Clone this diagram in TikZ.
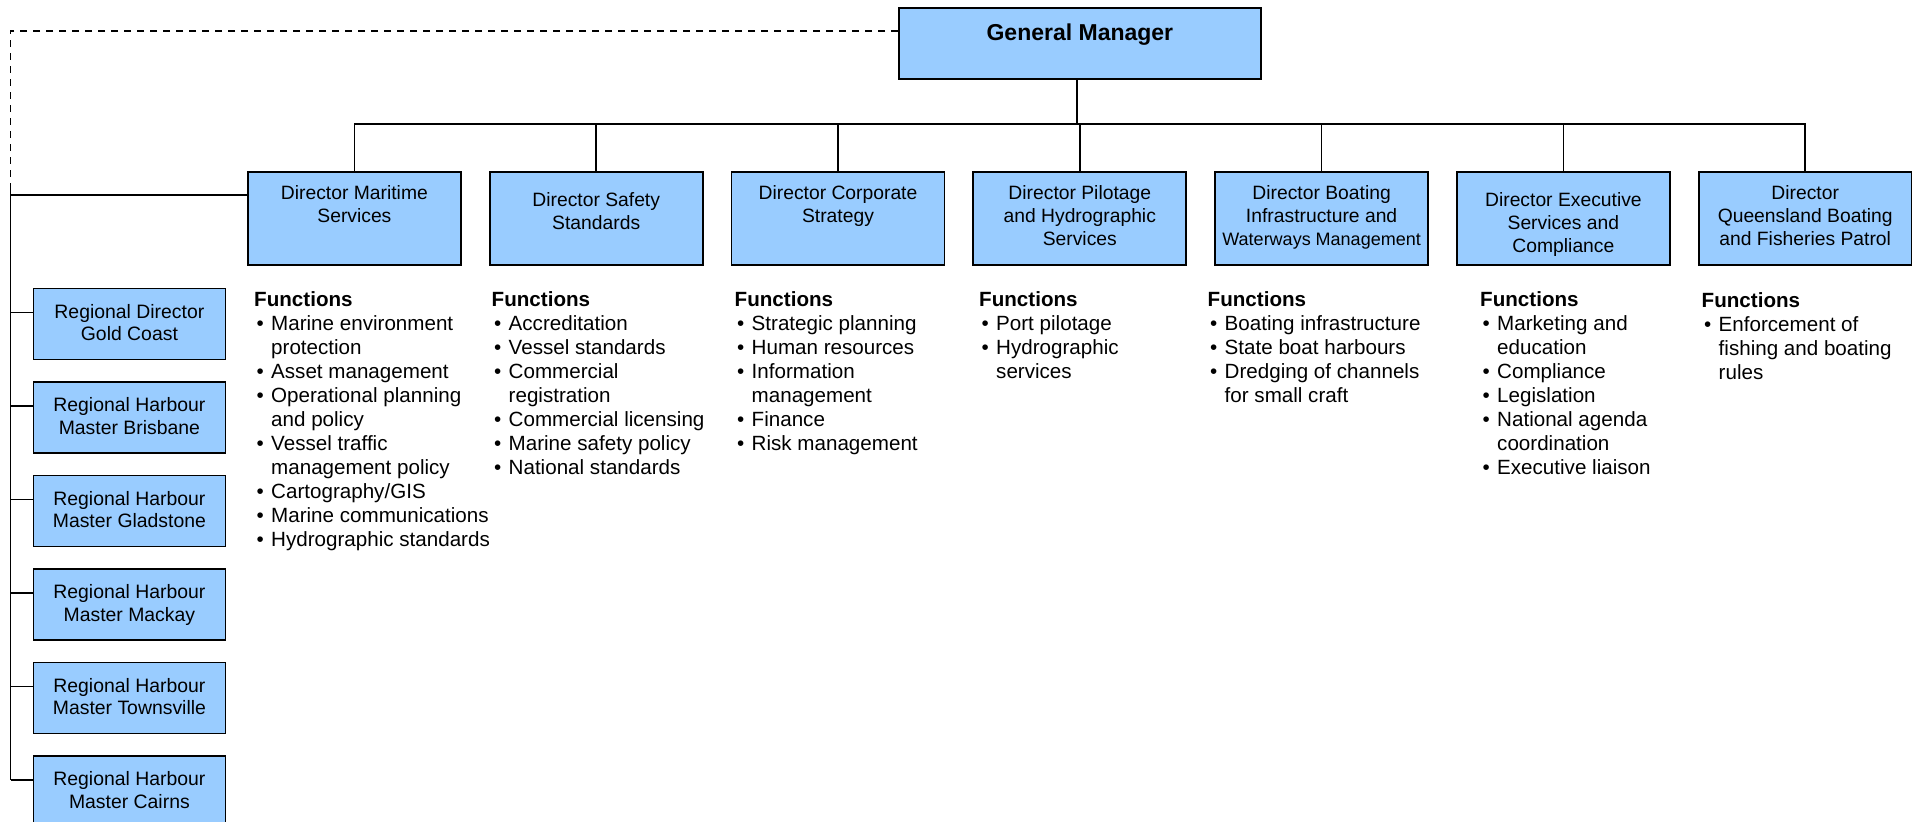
\documentclass[tikz,border=0pt]{standalone}
\usepackage{fontspec}
\setmainfont{Liberation Sans}
\definecolor{boxblue}{HTML}{99CCFF}
\newcommand\boxtext[5]{\parbox[c][#2pt][t]{#1pt}{\centering\fontsize{#4}{22.7}\selectfont\rule{0pt}{#3pt}#5}}
\newcommand\dtext[2]{\boxtext{213}{93}{#1}{19.3}{#2}}
\newcommand\rtext[1]{\boxtext{192}{71}{29.7}{19.4}{#1}}
\newcommand\fhead{{\bfseries Functions}}
\newcommand\fb[1]{\makebox[17pt][l]{\hspace{2.5pt}\textbullet}#1}
\newcommand\fc[1]{\hspace*{17pt}#1}
\newcommand\fcol[1]{\parbox[t]{240pt}{\raggedright\fontsize{20.6}{24}\selectfont #1}}
\tikzset{
  box/.style={draw=black, line width=1.8pt, fill=boxblue, inner sep=0pt, anchor=north west},
  conn/.style={draw=black, line width=1.7pt},
  dashconn/.style={conn, dash pattern=on 7pt off 6pt},
  fn/.style={inner sep=0pt, anchor=base west},
}
\begin{document}
\begin{tikzpicture}[x=1pt, y=-1pt]
\useasboundingbox (0,0) rectangle (1912,822);

% General manager
\node[box] (gm) at (898,7.3) {\parbox[c][70.4pt][t]{362pt}{\centering\fontsize{23}{27}\selectfont\bfseries\rule{0pt}{32.7pt}General Manager}};

% Directors
\node[box] (d1) at (247.0,171) {\dtext{27.7}{Director Maritime\\Services}};
\node[box] (d2) at (488.8,171) {\dtext{35}{Director Safety\\Standards}};
\node[box] (d3) at (730.6,171) {\dtext{27.7}{Director Corporate\\Strategy}};
\node[box] (d4) at (972.4,171) {\dtext{27.7}{Director Pilotage\\and Hydrographic\\Services}};
\node[box] (d5) at (1214.2,171) {\dtext{27.7}{Director Boating\\Infrastructure and\\{\fontsize{18}{22.7}\selectfont Waterways Management}}};
\node[box] (d6) at (1456.0,171) {\dtext{35}{Director Executive\\Services and\\Compliance}};
\node[box] (d7) at (1697.8,171) {\dtext{27.7}{Director\\Queensland Boating\\and Fisheries Patrol}};

% Regional boxes
\node[box] (r1) at (32.5,287.5) {\rtext{Regional Director\\Gold Coast}};
\node[box] (r2) at (32.5,381.0) {\rtext{Regional Harbour\\Master Brisbane}};
\node[box] (r3) at (32.5,474.5) {\rtext{Regional Harbour\\Master Gladstone}};
\node[box] (r4) at (32.5,568.0) {\rtext{Regional Harbour\\Master Mackay}};
\node[box] (r5) at (32.5,661.5) {\rtext{Regional Harbour\\Master Townsville}};
\node[box] (r6) at (32.5,755.0) {\rtext{Regional Harbour\\Master Cairns}};

% Connectors
\coordinate (bus) at (0,124);
\coordinate (dl) at (10.5,30.7);
\coordinate (vtop) at (10.5,188);
\coordinate (gmb) at ([xshift=-3pt]gm.south);
\coordinate (d1w) at ([yshift=23.5pt]d1.west);
\foreach \i in {1,...,6} {\coordinate (s\i) at ([yshift=11.5pt]r\i.west);}
\draw[conn] (gmb) -- (gmb |- bus);
\draw[conn] (d1.north) -- (d1.north |- bus) -- (d7.north |- bus) -- (d7.north);
\foreach \i in {2,...,6} {\draw[conn] (d\i.north) -- (d\i.north |- bus);}
\draw[dashconn] (gm.west |- dl) -- (dl) -- (vtop);
\draw[conn] (vtop) -- (vtop |- s6);
\draw[conn] (d1w) -- (vtop |- d1w);
\foreach \i in {1,...,6} {\draw[conn] (s\i) -- (vtop |- s\i);}

% Functions
\node[fn] (f1) at (254,306.7) {\fcol{\fhead\\
\fb{Marine environment}\\ \fc{protection}\\ \fb{Asset management}\\ \fb{Operational planning}\\ \fc{and policy}\\
\fb{Vessel traffic}\\ \fc{management policy}\\ \fb{Cartography/GIS}\\ \fb{Marine communications}\\ \fb{Hydrographic standards}}};
\node[fn] (f2) at (491.5,306.7) {\fcol{\fhead\\
\fb{Accreditation}\\ \fb{Vessel standards}\\ \fb{Commercial}\\ \fc{registration}\\ \fb{Commercial licensing}\\ \fb{Marine safety policy}\\ \fb{National standards}}};
\node[fn] (f3) at (734.5,306.7) {\fcol{\fhead\\
\fb{Strategic planning}\\ \fb{Human resources}\\ \fb{Information}\\ \fc{management}\\ \fb{Finance}\\ \fb{Risk management}}};
\node[fn] (f4) at (979,306.7) {\fcol{\fhead\\
\fb{Port pilotage}\\ \fb{Hydrographic}\\ \fc{services}}};
\node[fn] (f5) at (1207.5,306.7) {\fcol{\fhead\\
\fb{Boating infrastructure}\\ \fb{State boat harbours}\\ \fb{Dredging of channels}\\ \fc{for small craft}}};
\node[fn] (f6) at (1480,306.7) {\fcol{\fhead\\
\fb{Marketing and}\\ \fc{education}\\ \fb{Compliance}\\ \fb{Legislation}\\ \fb{National agenda}\\ \fc{coordination}\\ \fb{Executive liaison}}};
\node[fn] (f7) at (1701.5,307.5) {\fcol{\fhead\\
\fb{Enforcement of}\\ \fc{fishing and boating}\\ \fc{rules}}};
\end{tikzpicture}
\end{document}
